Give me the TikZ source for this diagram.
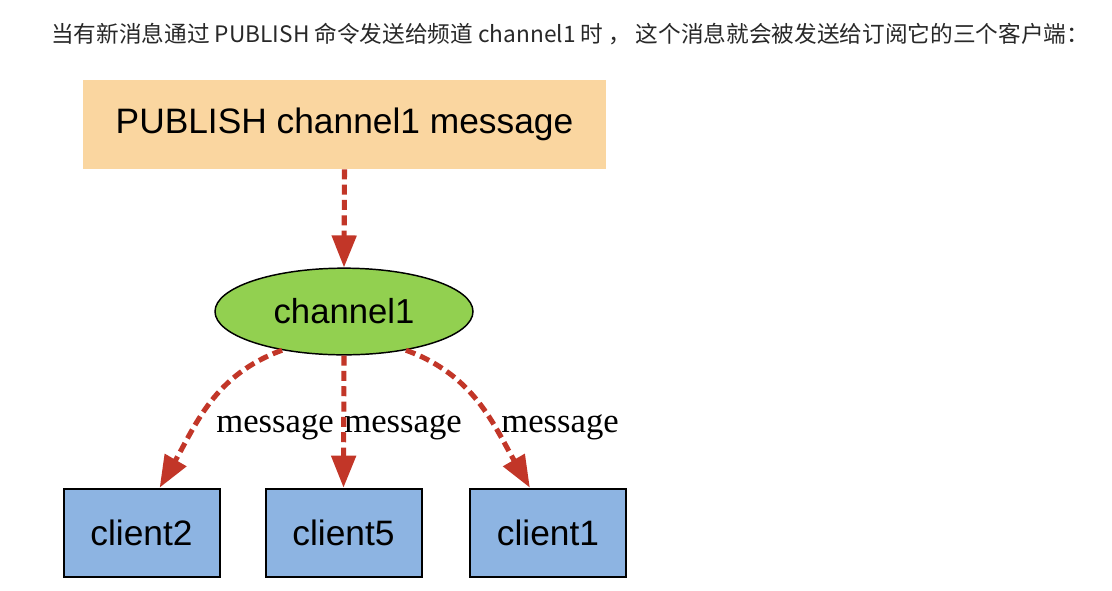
\documentclass[tikz,border=0pt]{standalone}
\usepackage{fontspec}
\setmainfont{Liberation Serif}
\setsansfont{Liberation Sans}
\newfontfamily\cjk{Noto Sans CJK SC}
\usetikzlibrary{shapes.geometric,arrows.meta,calc}
\definecolor{peach}{RGB}{250,214,160}
\definecolor{chgreen}{RGB}{146,208,80}
\definecolor{clblue}{RGB}{141,180,226}
\definecolor{arrred}{RGB}{194,54,40}
\definecolor{toptext}{RGB}{40,40,40}
\tikzset{
  pubbox/.style={rectangle, fill=peach, draw=none, minimum width=392pt, minimum height=66.75pt, inner sep=0pt, font=\sffamily\fontsize{26.5}{30}\selectfont},
  chan/.style={ellipse, fill=chgreen, draw=black, line width=1.1pt, minimum width=193.5pt, minimum height=65pt, inner sep=0pt, font=\sffamily\fontsize{26}{30}\selectfont},
  clientbox/.style={rectangle, fill=clblue, draw=black, line width=1.5pt, minimum width=117pt, minimum height=66.5pt, inner sep=0pt, font=\sffamily\fontsize{26.5}{30}\selectfont},
  msgarrow/.style={draw=arrred, line width=3.8pt, dash pattern=on 7.5pt off 4pt, -{Triangle[length=24pt,width=18pt]}},
  msglabel/.style={font=\rmfamily\fontsize{26}{30}\selectfont, inner sep=0pt, anchor=base},
}
\begin{document}
\begin{tikzpicture}[x=0.75pt,y=-0.75pt]
\fill[white] (0,0) rectangle (1112,590);
\useasboundingbox (0,0) rectangle (1112,590);
\node[anchor=west, inner sep=0pt, text=toptext, font=\cjk\fontsize{17}{20}\selectfont] (title) at (51,34) {当有新消息通过 PUBLISH 命令发送给频道 channel1 时 ，\hspace{0.2em}这个消息就会被发送给订阅它的三个客户端：};
\node[pubbox] (pub) at (344.5,124.5) {PUBLISH channel1 message};
\node[chan] (ch) at (344,311.5) {channel1};
\node[clientbox] (c2) at (141.5,533) {client2};
\node[clientbox] (c5) at (343.5,533) {client5};
\node[clientbox] (c1) at (548,533) {client1};
\coordinate (t2) at ($(c2.north)!0.23!(c2.north east)$);
\coordinate (t1) at ($(c1.north)!0.23!(c1.north west)$);
\draw[msgarrow] (pub.south) -- (ch.north);
\draw[msgarrow] (ch.212) to[out=200, in=60] (t2);
\draw[msgarrow] (ch.south) -- (c5.north);
\draw[msgarrow] (ch.-32) to[out=-20, in=120] (t1);
\node[msglabel] (m2) at (275,432) {message};
\node[msglabel] (m5) at (403,432) {message};
\node[msglabel] (m1) at (560,432) {message};
\end{tikzpicture}
\end{document}
